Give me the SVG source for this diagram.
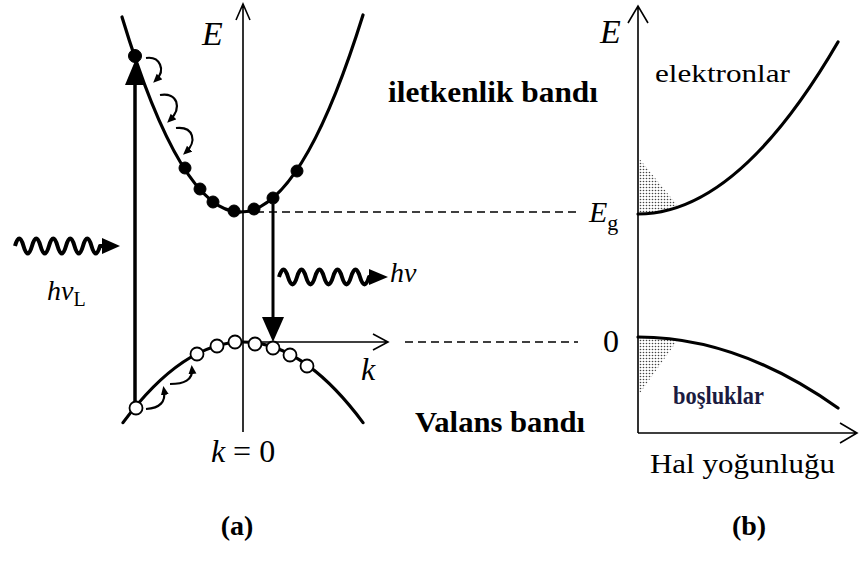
<svg xmlns="http://www.w3.org/2000/svg" width="859" height="568" viewBox="0 0 859 568">
<style>
.ax{fill:none;stroke:#000;stroke-width:1.6}
.cv{fill:none;stroke:#000;stroke-width:3.2;stroke-linecap:round}
.dash{fill:none;stroke:#000;stroke-width:1.5;stroke-dasharray:8 5}
.hook{fill:none;stroke:#000;stroke-width:2.2;marker-end:url(#hk)}
.el{fill:#000;stroke:#000;stroke-width:1}
.ho{fill:#fff;stroke:#000;stroke-width:1.8}
.wave{fill:none;stroke:#000;stroke-width:4;stroke-linejoin:round}
.it{font-style:italic}
.b{font-weight:bold}
</style>
<defs>
<marker id="hk" markerUnits="userSpaceOnUse" markerWidth="10" markerHeight="10" refX="5" refY="4" orient="auto">
<path d="M0,0 L9,4 L0,8 Z" fill="#000"/>
</marker>
<pattern id="dots" width="3" height="3" patternUnits="userSpaceOnUse">
<circle cx="1.5" cy="1.5" r="0.8" fill="#444"/>
</pattern>
</defs>

<g id="panel-a">
<g id="axes-a">
<path class="ax" d="M243,432 L243,4 M236,20 L243,4 L250,20"/>
<path class="ax" d="M243,342 L388,342 M373,334 L388,342 L373,350"/>
</g>
<g id="conduction-band">
<path class="cv" d="M240,212 Q181,212 122,17"/>
<path class="cv" d="M240,212 Q301.5,212 363,15"/>
<circle class="el" cx="135" cy="56" r="6.5"/>
<circle class="el" cx="185" cy="168" r="6"/>
<circle class="el" cx="200" cy="189" r="6"/>
<circle class="el" cx="213" cy="202" r="6"/>
<circle class="el" cx="234" cy="211" r="6"/>
<circle class="el" cx="254" cy="209" r="6"/>
<circle class="el" cx="273" cy="198" r="6"/>
<circle class="el" cx="297" cy="171" r="6"/>
<path class="hook" d="M146,58 C160,56 166,70 156,80"/>
<path class="hook" d="M160,95 C178,92 182,108 170,120"/>
<path class="hook" d="M176,128 C194,126 197,142 186,152"/>
</g>
<g id="valence-band">
<path class="cv" d="M123,422.6 Q243,261.4 363,422.6"/>
<circle class="ho" cx="136" cy="408" r="6.5"/>
<circle class="ho" cx="197" cy="354" r="6.5"/>
<circle class="ho" cx="217" cy="346" r="6.5"/>
<circle class="ho" cx="235" cy="342" r="6.5"/>
<circle class="ho" cx="255" cy="344" r="6.5"/>
<circle class="ho" cx="273" cy="348" r="6.5"/>
<circle class="ho" cx="290" cy="355" r="6.5"/>
<circle class="ho" cx="307" cy="366" r="6.5"/>
<path class="hook" d="M146,409 C160,408 166,402 164,390"/>
<path class="hook" d="M170,384 C184,384 193,380 192,369"/>
</g>
<g id="connectors">
<path d="M135,402 L135,80" stroke="#000" stroke-width="3.5" fill="none"/>
<polygon points="135,61 125,85 145,85" fill="#000"/>
<path d="M273,204 L273,322" stroke="#000" stroke-width="3" fill="none"/>
<polygon points="262,317 284,317 273,342" fill="#000"/>
<path class="dash" d="M243,212 L578,212"/>
<path class="dash" d="M405,342 L578,342"/>
<path class="wave" d="M15,246 q4.25,-15 8.5,0 t8.5,0 t8.5,0 t8.5,0 t8.5,0 t8.5,0 t8.5,0 t8.5,0 t8.5,0 t8.5,0 L106,246"/>
<polygon points="102,238 120,246 102,254" fill="#000"/>
<path class="wave" d="M279,277 q4.5,-15 9,0 t9,0 t9,0 t9,0 t9,0 t9,0 t9,0 t9,0 t9,0 t9,0 L372,277"/>
<polygon points="369,269 388,277 369,285" fill="#000"/>
</g>
<g id="labels-a" font-family="'Liberation Serif', 'Times New Roman', serif" fill="#000">
<text class="it" x="202" y="45" font-size="34">E</text>
<text class="it" x="361" y="380" font-size="32">k</text>
<text x="243" y="462" font-size="32" text-anchor="middle"><tspan class="it">k</tspan> = 0</text>
<text class="it" x="47" y="300" font-size="28">hν<tspan font-style="normal" font-size="20" dy="6">L</tspan></text>
<text class="it" x="390" y="282" font-size="28">hν</text>
<text class="b" x="388" y="102" font-size="30" textLength="210" lengthAdjust="spacingAndGlyphs">iletkenlik bandı</text>
<text class="b" x="415" y="432" font-size="30" textLength="170" lengthAdjust="spacingAndGlyphs">Valans bandı</text>
<text class="b" x="237" y="535" font-size="28" text-anchor="middle">(a)</text>
</g>
</g>

<g id="panel-b">
<g id="axes-b">
<path class="ax" d="M638,433 L638,6 M628,23 L638,6 L648,23" stroke-width="2"/>
<path class="ax" d="M638,433 L856,433 M840,423 L857,433 L840,443" stroke-width="2"/>
</g>
<g id="electron-dos">
<path d="M638,157 L677,205 Q657,214 638,214 Z" fill="url(#dots)"/>
<path class="cv" d="M638,214 Q738,214 838,42" stroke-width="3.6"/>
</g>
<g id="hole-dos">
<path d="M638,337 Q660,337 677,341 L640,393 L638,393 Z" fill="url(#dots)"/>
<path class="cv" d="M638,337 Q738,337 838,408" stroke-width="3.6"/>
</g>
<g id="labels-b" font-family="'Liberation Serif', 'Times New Roman', serif" fill="#000">
<text class="it" x="600" y="43" font-size="34">E</text>
<text class="it" x="589" y="222" font-size="30">E<tspan font-style="normal" font-size="22" dy="8">g</tspan></text>
<text x="603" y="352" font-size="32">0</text>
<text x="655" y="82" font-size="26" textLength="135" lengthAdjust="spacingAndGlyphs">elektronlar</text>
<text class="b" x="673" y="404" font-size="26" textLength="91" lengthAdjust="spacingAndGlyphs" fill="#1b1b40">boşluklar</text>
<text x="650" y="473" font-size="28" textLength="185" lengthAdjust="spacingAndGlyphs">Hal yoğunluğu</text>
<text class="b" x="749" y="535" font-size="28" text-anchor="middle">(b)</text>
</g>
</g>
</svg>
